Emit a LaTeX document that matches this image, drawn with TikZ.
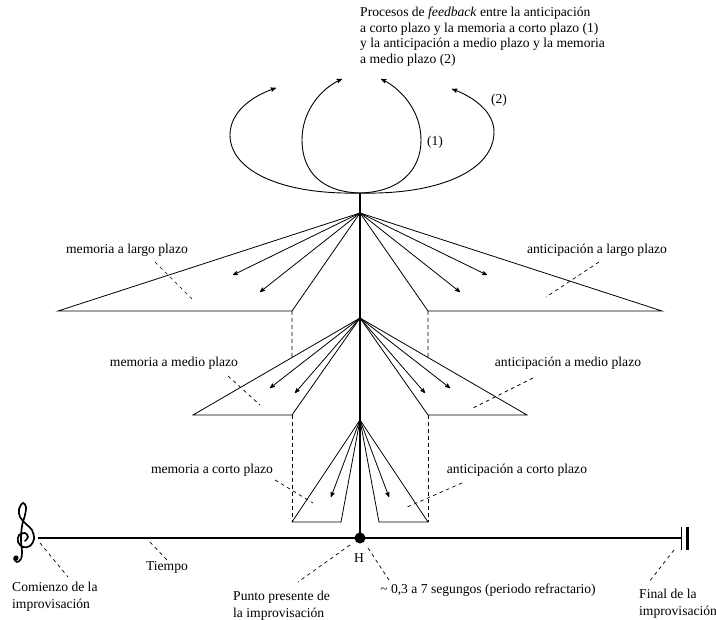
\documentclass[tikz,border=0pt]{standalone}
\usepackage{fontspec}
\setmainfont{Liberation Serif}
\usetikzlibrary{arrows}

\tikzset{
	edgeline/.style={line width=0.8pt},
	fanarrow/.style={line width=0.8pt,-stealth'},
	loopline/.style={line width=0.9pt,-stealth'},
	leader/.style={line width=0.7pt,dash pattern=on 3.5pt off 3.5pt},
	guide/.style={line width=0.8pt,dash pattern=on 4pt off 3pt},
	axisline/.style={line width=2.6pt},
	lbl/.style={font=\fontsize{13.6}{15.5}\selectfont,inner sep=0pt},
	lbltwo/.style={font=\fontsize{13.6}{17}\selectfont,inner sep=0pt,align=left,anchor=north west},
}

\begin{document}
\begin{tikzpicture}[x=1pt,y=-1pt]
	\useasboundingbox (0,0) rectangle (716,620);

	% axis points
	\coordinate (top) at (360,193);
	\coordinate (aL) at (360,213);
	\coordinate (aM) at (360,318);
	\coordinate (aC) at (360,420);
	\coordinate (H) at (360,538);
	\coordinate (t0) at (38,538);
	\coordinate (t1) at (681,538);

	% largo plazo
	\coordinate (lLo) at (58,311);  \coordinate (lLi) at (292,311);
	\coordinate (lRo) at (662,311); \coordinate (lRi) at (428,311);
	\coordinate (lLa) at (233,275); \coordinate (lLb) at (260,292);
	\coordinate (lRa) at (487,275); \coordinate (lRb) at (460,292);

	% medio plazo
	\coordinate (mLo) at (193,415); \coordinate (mLi) at (292,415);
	\coordinate (mRo) at (527,415); \coordinate (mRi) at (428,415);
	\coordinate (mLa) at (270,388); \coordinate (mLb) at (295,393);
	\coordinate (mRa) at (450,388); \coordinate (mRb) at (425,393);

	% corto plazo
	\coordinate (cLo) at (292,522); \coordinate (cLi) at (341,522);
	\coordinate (cRo) at (428,522); \coordinate (cRi) at (379,522);
	\coordinate (cLa) at (331,497); \coordinate (cRa) at (389,497);

	% feedback loops
	\coordinate (f1L) at (342,79);  \coordinate (f1R) at (381,79);
	\coordinate (f2L) at (276,88);  \coordinate (f2R) at (452,89);
	\coordinate (s1L) at (302,140); \coordinate (s1R) at (421,140);
	\coordinate (s2L) at (230,135); \coordinate (s2R) at (494,132);

	% labels
	\node[lbl,align=left,anchor=north west] (title) at (360,7)
		{Procesos de \emph{feedback} entre la anticipación\\a corto plazo y la memoria a corto plazo (1)\\y la anticipación a medio plazo y la memoria\\a medio plazo (2)};
	\node[lbl] (one) at (435,142) {(1)};
	\node[lbl] (two) at (499,100) {(2)};
	\node[lbl] (memL) at (127,250) {memoria a largo plazo};
	\node[lbl] (antL) at (597,250) {anticipación a largo plazo};
	\node[lbl] (memM) at (174,363) {memoria a medio plazo};
	\node[lbl] (antM) at (568,363) {anticipación a medio plazo};
	\node[lbl] (memC) at (212,470) {memoria a corto plazo};
	\node[lbl] (antC) at (517,470) {anticipación a corto plazo};
	\node[lbl] (tiempo) at (167,567) {Tiempo};
	\node[lbl] (hpt) at (359,558) {H};
	\node[lbl] (refr) at (488,590) {\textasciitilde{} 0,3 a 7 segungos (periodo refractario)};
	\node[lbltwo] (comienzo) at (12,582) {Comienzo de la\\improvisación};
	\node[lbltwo] (punto) at (233,591) {Punto presente de\\la improvisación};
	\node[lbltwo] (final) at (639,589) {Final de la\\improvisación};

	% leader ends
	\coordinate (d1a) at (155,262); \coordinate (d1b) at (193,300);
	\coordinate (d2a) at (599,262); \coordinate (d2b) at (546,297);
	\coordinate (d3a) at (228,376); \coordinate (d3b) at (260,405);
	\coordinate (d4a) at (533,378); \coordinate (d4b) at (473,408);
	\coordinate (d5a) at (275,480); \coordinate (d5b) at (313,503);
	\coordinate (d6a) at (462,483); \coordinate (d6b) at (405,508);
	\coordinate (d7a) at (150,542); \coordinate (d7b) at (167,560);
	\coordinate (d8a) at (40,543);  \coordinate (d8b) at (68,577);
	\coordinate (d9a) at (350,545); \coordinate (d9b) at (298,582);
	\coordinate (d10a) at (368,548); \coordinate (d10b) at (389,580);
	\coordinate (d11a) at (674,550); \coordinate (d11b) at (649,582);

	% loops
	\draw[loopline] (top) .. controls (400,192) and (421,170) .. (s1R)
		.. controls (421,110) and (400,88) .. (f1R);
	\draw[loopline] (top) .. controls (320,192) and (302,170) .. (s1L)
		.. controls (302,110) and (322,88) .. (f1L);
	\draw[loopline] (top) .. controls (440,195) and (494,170) .. (s2R)
		.. controls (494,112) and (474,97) .. (f2R);
	\draw[loopline] (top) .. controls (280,195) and (230,170) .. (s2L)
		.. controls (230,112) and (252,96) .. (f2L);

	% fans
	\draw[edgeline] (aL) -- (lLo) -- (lLi) -- cycle;
	\draw[edgeline] (aL) -- (lRo) -- (lRi) -- cycle;
	\draw[fanarrow] (aL) -- (lLa);
	\draw[fanarrow] (aL) -- (lLb);
	\draw[fanarrow] (aL) -- (lRa);
	\draw[fanarrow] (aL) -- (lRb);

	\draw[edgeline] (aM) -- (mLo) -- (mLi) -- cycle;
	\draw[edgeline] (aM) -- (mRo) -- (mRi) -- cycle;
	\draw[fanarrow] (aM) -- (mLa);
	\draw[fanarrow] (aM) -- (mLb);
	\draw[fanarrow] (aM) -- (mRa);
	\draw[fanarrow] (aM) -- (mRb);

	\draw[edgeline] (aC) -- (cLo) -- (cLi) -- cycle;
	\draw[edgeline] (aC) -- (cRo) -- (cRi) -- cycle;
	\draw[fanarrow] (aC) -- (cLa);
	\draw[fanarrow] (aC) -- (cRa);

	% guides
	\draw[guide] (lLi) -- (intersection of lLi--cLo and aM--mLo);
	\draw[guide] (lRi) -- (intersection of lRi--cRo and aM--mRo);
	\draw[guide] (mLi) -- (cLo);
	\draw[guide] (mRi) -- (cRo);

	% time axis
	\draw[axisline] (top) -- (H);
	\draw[axisline] (t0) -- (t1);
	\draw[line width=1pt] (681,527) -- (681,550);
	\draw[line width=3pt] (687,527) -- (687,550);
	\fill (H) circle (5.5);

	% treble clef
	\draw[line width=1.7pt,line cap=round] plot[smooth,tension=0.6] coordinates {
		(25,541) (28,537) (25,533) (19,535) (18,542) (23,547) (30,546) (34,539)
		(32,530) (26,524) (20,517) (19,509) (23,503) (26,507) (25,515) (22,526)
		(21,540) (22,552) (21,559) (17,562) (14,559)};
	\fill (16,558) circle (2.6);

	% leaders
	\draw[leader] (d1a) -- (d1b);
	\draw[leader] (d2a) -- (d2b);
	\draw[leader] (d3a) -- (d3b);
	\draw[leader] (d4a) -- (d4b);
	\draw[leader] (d5a) -- (d5b);
	\draw[leader] (d6a) -- (d6b);
	\draw[leader] (d7a) -- (d7b);
	\draw[leader] (d8a) -- (d8b);
	\draw[leader] (d9a) -- (d9b);
	\draw[leader] (d10a) -- (d10b);
	\draw[leader] (d11a) -- (d11b);
\end{tikzpicture}
\end{document}
